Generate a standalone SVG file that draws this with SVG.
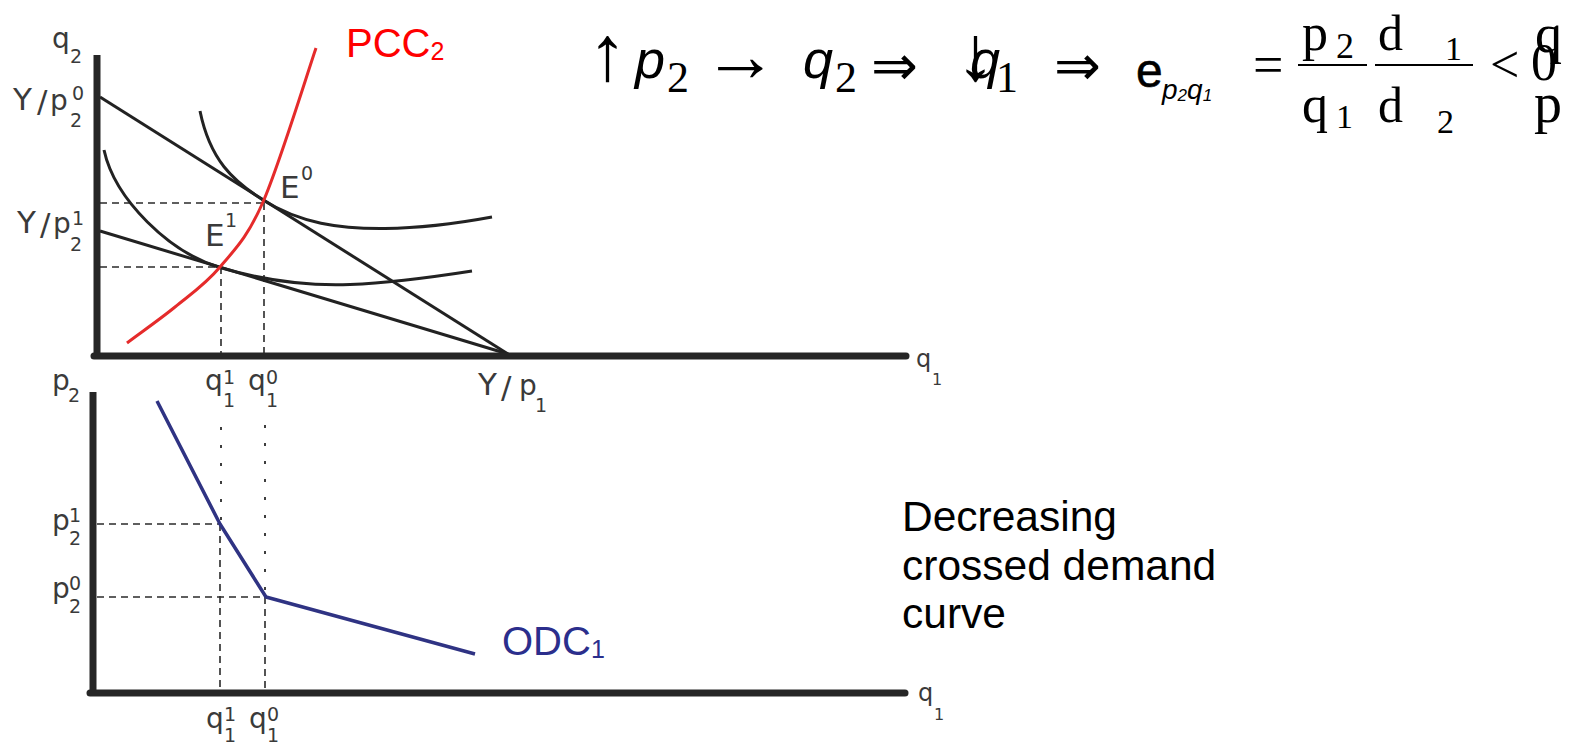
<svg xmlns="http://www.w3.org/2000/svg" width="1574" height="743" viewBox="0 0 1574 743">
<style>
.ax{stroke:#262626;stroke-width:7;fill:none}
.ln{stroke:#222;stroke-width:3;fill:none}
.ds{stroke:#2a2a2a;stroke-width:1.6;stroke-dasharray:7 5;fill:none}
.dt{stroke:#2a2a2a;stroke-width:1.8;stroke-dasharray:3 15;fill:none}
.lb{font-family:"DejaVu Sans",sans-serif;fill:#3a3a3a;font-size:28px}
.lbY{font-size:31px}
.sm{font-size:19px}
.xs{font-size:16px}
.f{font-family:"Liberation Serif","Times New Roman",serif;fill:#000}
.fi{font-family:"Liberation Sans",Arial,sans-serif;font-style:italic;fill:#000}
.fa{font-family:"DejaVu Sans",sans-serif;fill:#000}
.cap{font-family:"Liberation Sans",Arial,sans-serif;font-size:42.5px;fill:#000}
</style>
<rect width="1574" height="743" fill="#fff"/>

<g id="top-chart">
  <g id="guides-top">
    <line class="ds" x1="100" y1="203" x2="263" y2="203"/>
    <line class="ds" x1="100" y1="267" x2="220" y2="267"/>
    <line class="ds" x1="221" y1="267" x2="221" y2="353"/>
    <line class="ds" x1="264" y1="203" x2="264" y2="353"/>
  </g>
  <g id="budget-lines">
    <line class="ln" x1="100" y1="97" x2="508" y2="354"/>
    <line class="ln" x1="100" y1="231" x2="508" y2="354"/>
  </g>
  <g id="indifference-curves">
    <path class="ln" d="M104,150 C115,200 170,252.7 220,267.5 C270,282.3 310,286 350,284.5 C390,283 440,276 472,271"/>
    <path class="ln" d="M200,111 C210,160 233,181 263,200 C300,223.3 340,229 385,228.5 C430,228 465,222 492,217"/>
  </g>
  <path id="pcc" d="M127,343 C135,336.7 159.5,319.7 175,307 C190.5,294.3 205.3,284.5 220,267 C234.7,249.5 247,238.5 263,202 C279,165.5 307.2,73.7 316,48" fill="none" stroke="#e52b2b" stroke-width="3"/>
  <g id="axes-top">
    <line class="ax" x1="97" y1="55" x2="97" y2="356" stroke-width="6"/>
    <line class="ax" x1="94" y1="356" x2="906" y2="356" stroke-linecap="round"/>
  </g>
  <g id="labels-top" class="lb">
    <text><tspan x="52" y="48">q</tspan><tspan class="sm" x="70" y="63">2</tspan></text>
    <text><tspan class="lbY" x="13" y="110">Y</tspan><tspan class="lbY" x="37" y="112">/</tspan><tspan x="50" y="110">p</tspan><tspan class="sm" x="70" y="127">2</tspan><tspan class="sm" x="72" y="100">0</tspan></text>
    <text><tspan class="lbY" x="17" y="233">Y</tspan><tspan class="lbY" x="40" y="235">/</tspan><tspan x="53" y="233">p</tspan><tspan class="sm" x="70" y="251">2</tspan><tspan class="sm" x="72" y="225">1</tspan></text>
    <text><tspan class="lbY" x="280" y="198">E</tspan><tspan class="sm" x="301" y="180">0</tspan></text>
    <text><tspan class="lbY" x="205" y="246">E</tspan><tspan class="sm" x="225" y="227">1</tspan></text>
    <text><tspan x="205" y="390">q</tspan><tspan class="sm" x="223" y="384">1</tspan><tspan class="sm" x="223" y="407">1</tspan></text>
    <text><tspan x="248" y="390">q</tspan><tspan class="sm" x="266" y="384">0</tspan><tspan class="sm" x="266" y="407">1</tspan></text>
    <text><tspan class="lbY" x="478" y="395">Y</tspan><tspan class="lbY" x="501" y="398">/</tspan><tspan x="519" y="395">p</tspan><tspan class="sm" x="535" y="412">1</tspan></text>
    <text font-size="24"><tspan x="916" y="367">q</tspan><tspan class="xs" x="932" y="385">1</tspan></text>
  </g>
  <text id="pcc-label" x="346" y="57" font-family="Liberation Sans, Arial, sans-serif" font-size="40" fill="#ff0000">PCC<tspan font-size="25" dy="3">2</tspan></text>
</g>

<g id="bottom-chart">
  <g id="guides-bottom">
    <line class="ds" x1="97" y1="524" x2="220" y2="524"/>
    <line class="ds" x1="97" y1="597" x2="266" y2="597"/>
    <line class="dt" x1="221" y1="427" x2="221" y2="524"/>
    <line class="dt" x1="265" y1="425" x2="265" y2="597"/>
    <line class="ds" x1="220" y1="524" x2="220" y2="690"/>
    <line class="ds" x1="265" y1="597" x2="265" y2="690"/>
  </g>
  <path id="odc" d="M157,401 L220,524 L266,597 L475,654" fill="none" stroke="#2f3383" stroke-width="3.5" stroke-linejoin="round"/>
  <g id="axes-bottom">
    <line class="ax" x1="93" y1="392" x2="93" y2="693" stroke-width="6"/>
    <line class="ax" x1="90" y1="693" x2="905" y2="693" stroke-linecap="round"/>
  </g>
  <g id="labels-bottom" class="lb">
    <text><tspan x="52" y="390">p</tspan><tspan class="sm" x="68" y="402">2</tspan></text>
    <text><tspan x="52" y="530">p</tspan><tspan class="sm" x="69" y="522">1</tspan><tspan class="sm" x="69" y="545">2</tspan></text>
    <text><tspan x="52" y="598">p</tspan><tspan class="sm" x="69" y="590">0</tspan><tspan class="sm" x="69" y="613">2</tspan></text>
    <text><tspan x="206" y="728">q</tspan><tspan class="sm" x="224" y="721">1</tspan><tspan class="sm" x="224" y="742">1</tspan></text>
    <text><tspan x="249" y="728">q</tspan><tspan class="sm" x="267" y="721">0</tspan><tspan class="sm" x="267" y="742">1</tspan></text>
    <text font-size="24"><tspan x="918" y="701">q</tspan><tspan class="xs" x="934" y="720">1</tspan></text>
  </g>
  <text id="odc-label" x="502" y="655" font-family="Liberation Sans, Arial, sans-serif" font-size="40" fill="#2b2e8c">ODC<tspan font-size="25" dy="3">1</tspan></text>
</g>

<g id="caption" class="cap">
  <text x="902" y="531">Decreasing</text>
  <text x="902" y="580">crossed demand</text>
  <text x="902" y="628">curve</text>
</g>

<g id="formula">
  <text class="f" x="588" y="80" font-size="78">↑</text>
  <text class="fi" x="635" y="78" font-size="54">p</text>
  <text class="f" x="667" y="92" font-size="44">2</text>
  <text class="f" x="703" y="81" font-size="75">→</text>
  <text class="fi" x="803" y="78" font-size="54">q</text>
  <text class="f" x="835" y="92" font-size="44">2</text>
  <text class="fa" x="871" y="85" font-size="56">⇒</text>
  <text class="f" x="956" y="80" font-size="78">↓</text>
  <text class="fi" x="970" y="78" font-size="54">q</text>
  <text class="f" x="996" y="92" font-size="44">1</text>
  <text class="fa" x="1054" y="85" font-size="56">⇒</text>
  <text x="1136" y="87" font-family="Liberation Sans, Arial, sans-serif" font-size="48" stroke="#000" stroke-width="0.6">e</text>
  <text class="fi" x="1162" y="99" font-size="28">p<tspan font-size="17" dy="2">2</tspan><tspan dy="-2">q</tspan><tspan font-size="17" dy="2">1</tspan></text>
  <text class="f" x="1253" y="83" font-size="54">=</text>
  <line x1="1298" y1="65" x2="1367" y2="65" stroke="#000" stroke-width="2"/>
  <text class="f" x="1302" y="50" font-size="52">p</text>
  <text class="f" x="1336" y="58" font-size="36">2</text>
  <text class="f" x="1302" y="122" font-size="52">q</text>
  <text class="f" x="1336" y="128" font-size="34">1</text>
  <line x1="1375" y1="65" x2="1473" y2="65" stroke="#000" stroke-width="2"/>
  <text class="f" x="1378" y="50" font-size="50">d</text>
  <text class="f" x="1445" y="60" font-size="34">1</text>
  <text class="f" x="1378" y="122" font-size="50">d</text>
  <text class="f" x="1437" y="133" font-size="34">2</text>
  <text class="f" x="1490" y="82" font-size="52">&lt;</text>
  <text class="f" x="1531" y="80" font-size="52">0</text>
  <text class="f" x="1535" y="52" font-size="54">q</text>
  <text class="f" x="1534" y="122" font-size="56">p</text>
</g>
</svg>
